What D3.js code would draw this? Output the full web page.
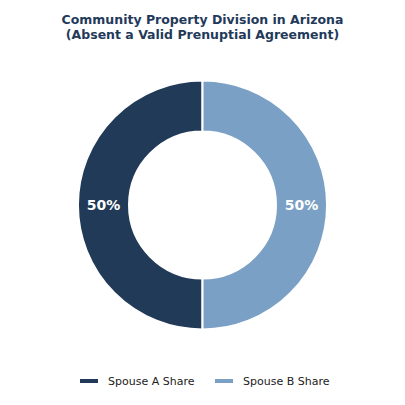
<!doctype html>
<html lang="en">
<head>
<meta charset="utf-8">
<title>Community Property Division in Arizona</title>
<script src="https://cdn.jsdelivr.net/npm/d3@7"></script>
<style>
  body { margin: 0; background: #fff; }
  svg { display: block; font-family: "DejaVu Sans", sans-serif; }
</style>
</head>
<body>
<svg></svg>
<script>
var width = 405;
var height = 405;

var titleLines = ["Community Property Division in Arizona", "(Absent a Valid Prenuptial Agreement)"];
var categories = ["Spouse A Share", "Spouse B Share"];
var values = [50, 50];
var colors = ["#203a57", "#7ba0c5"];

var cx = 202.5, cy = 205;
var outerR = 124.5, innerR = 73.5;

var svg = d3.select("svg").attr("width", width).attr("height", height);

svg.selectAll("text.title")
    .data(titleLines)
    .enter()
    .append("text")
    .attr("class", "title")
    .attr("x", width / 2)
    .attr("y", function (d, i) { return 23.5 + i * 15.5; })
    .attr("text-anchor", "middle")
    .attr("font-size", "12.5px")
    .attr("font-weight", "bold")
    .attr("fill", "#1f3a5a")
    .text(function (d) { return d; });

var data = categories.map(function (c, i) { return { name: c, value: values[i], color: colors[i] }; });

// B on the right going clockwise from 12 o'clock, A on the left
var pie = d3.pie()
    .value(function (d) { return d.value; })
    .sort(null)
    .startAngle(2 * Math.PI)
    .endAngle(0);

var arc = d3.arc().innerRadius(innerR).outerRadius(outerR);
var labelArc = d3.arc().innerRadius((innerR + outerR) / 2).outerRadius((innerR + outerR) / 2);

var g = svg.append("g").attr("transform", "translate(" + cx + "," + cy + ")");
var total = d3.sum(values);

g.selectAll("path")
    .data(pie(data))
    .enter()
    .append("path")
    .attr("d", arc)
    .attr("fill", function (d) { return d.data.color; })
    .attr("stroke", "#fff")
    .attr("stroke-width", 2);

g.selectAll("text")
    .data(pie(data))
    .enter()
    .append("text")
    .attr("transform", function (d) { return "translate(" + labelArc.centroid(d) + ")"; })
    .attr("text-anchor", "middle")
    .attr("dy", "0.33em")
    .attr("font-size", "14px")
    .attr("font-weight", "bold")
    .attr("fill", "#fff")
    .text(function (d) { return Math.round(d.data.value / total * 100) + "%"; });

var legendX = [80, 215];
var legend = svg.selectAll("g.legend")
    .data(data)
    .enter()
    .append("g")
    .attr("class", "legend")
    .attr("transform", function (d, i) { return "translate(" + legendX[i] + ",381)"; });

legend.append("rect")
    .attr("x", 0).attr("y", -2)
    .attr("width", 18).attr("height", 4)
    .attr("fill", function (d) { return d.color; });

legend.append("text")
    .attr("x", 28)
    .attr("dy", "0.35em")
    .attr("font-size", "11px")
    .attr("fill", "#222")
    .text(function (d) { return d.name; });
</script>
</body>
</html>
